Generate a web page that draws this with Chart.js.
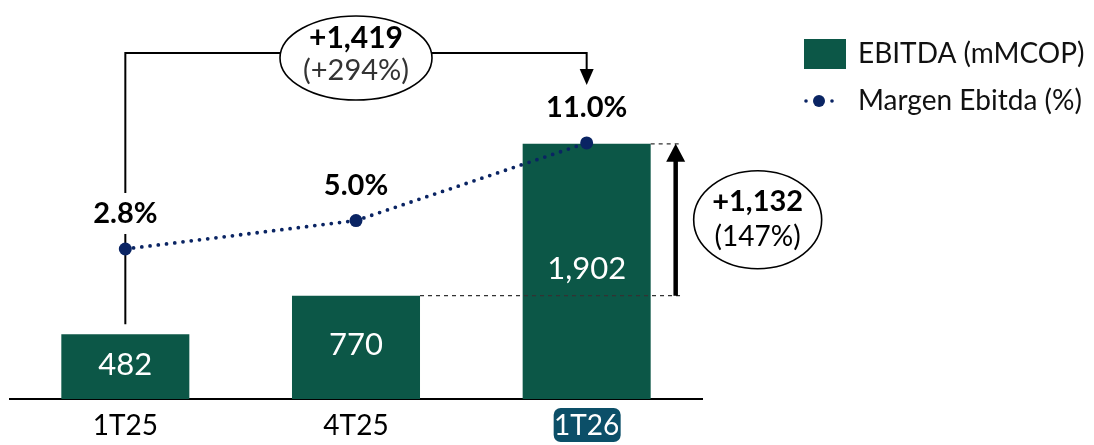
<!DOCTYPE html>
<html><head><meta charset="utf-8">
<script src="https://cdn.jsdelivr.net/npm/chart.js@4/dist/chart.umd.min.js"></script>
<style>html,body{margin:0;padding:0;background:#fff}#wrap{width:1094px;height:445px}</style>
</head><body><div id="wrap"><canvas id="c" width="1094" height="445"></canvas></div>
<script>
const categories = ['1T25', '4T25', '1T26'];
const ebitda = [482, 770, 1902];
const margin = [2.8, 5.0, 11.0];
const ebitdaLabels = ['482', '770', '1,902'];
const marginLabels = ['2.8%', '5.0%', '11.0%'];
const totalChange = ['+1,419', '(+294%)'];
const qoqChange = ['+1,132', '(147%)'];
const seriesNames = ['EBITDA (mMCOP)', 'Margen Ebitda (%)'];
const highlightIndex = 2;

const FONT = 'Lato';
const GREEN = '#0c5747';
const NAVY = '#0a2463';
const TEAL = '#0c4f68';

function ellipse(ctx, cx, cy, rx, ry) {
  ctx.save();
  ctx.beginPath();
  ctx.ellipse(cx, cy, rx, ry, 0, 0, Math.PI * 2);
  ctx.fillStyle = '#fff';
  ctx.fill();
  ctx.lineWidth = 1.6;
  ctx.strokeStyle = '#000';
  ctx.stroke();
  ctx.restore();
}
function tri(ctx, x, tipY, w, h, up) {
  ctx.beginPath();
  ctx.moveTo(x, tipY);
  ctx.lineTo(x - w / 2, up ? tipY + h : tipY - h);
  ctx.lineTo(x + w / 2, up ? tipY + h : tipY - h);
  ctx.closePath();
  ctx.fill();
}

const annot = {
  id: 'annot',
  beforeDraw(chart) {
    const ctx = chart.ctx, xs = chart.scales.x;
    const cx = xs.getPixelForValue(highlightIndex);
    ctx.save();
    ctx.fillStyle = TEAL;
    ctx.beginPath();
    ctx.roundRect(cx - 33, 408, 67, 34, 7);
    ctx.fill();
    ctx.restore();
  },
  beforeDatasetsDraw(chart) {
    const ctx = chart.ctx, xs = chart.scales.x, ys = chart.scales.y, y1 = chart.scales.y1;
    const x0 = xs.getPixelForValue(0), x2 = xs.getPixelForValue(2);
    const topY = 53;
    const tipY = y1.getPixelForValue(margin[2]) - 58;
    ctx.save();
    ctx.strokeStyle = '#000';
    ctx.lineWidth = 2;
    ctx.beginPath();
    ctx.moveTo(x0, ys.getPixelForValue(ebitda[0]) - 10);
    ctx.lineTo(x0, topY);
    ctx.lineTo(x2, topY);
    ctx.lineTo(x2, tipY - 10);
    ctx.stroke();
    ctx.fillStyle = '#000';
    tri(ctx, x2, tipY, 14, 16, false);
    ctx.restore();
  },
  afterDatasetsDraw(chart) {
    const ctx = chart.ctx, xs = chart.scales.x, ys = chart.scales.y, y1 = chart.scales.y1;
    const barMeta = chart.getDatasetMeta(0);
    ctx.save();
    // bar value labels
    ctx.textAlign = 'center';
    ctx.textBaseline = 'middle';
    ctx.fillStyle = '#fff';
    ctx.font = `31px ${FONT}`;
    barMeta.data.forEach((b, i) => {
      ctx.fillText(ebitdaLabels[i], b.x, (b.y + b.base) / 2 - 2);
    });
    // margin labels
    ctx.font = `bold 29px ${FONT}`;
    margin.forEach((m, i) => {
      const x = xs.getPixelForValue(i), y = y1.getPixelForValue(m) - 35;
      const w = ctx.measureText(marginLabels[i]).width;
      ctx.fillStyle = '#fff';
      ctx.fillRect(x - w / 2 - 4, y - 21, w + 8, 41);
      ctx.fillStyle = '#000';
      ctx.fillText(marginLabels[i], x, y);
    });
    // dashed guides + arrow
    const b2 = barMeta.data[2], b1 = barMeta.data[1];
    const right2 = b2.x + b2.width / 2, right1 = b1.x + b1.width / 2;
    const yTop = ys.getPixelForValue(ebitda[2]), yMid = ys.getPixelForValue(ebitda[1]);
    const dashEnd = right2 + 32;
    ctx.strokeStyle = '#333';
    ctx.lineWidth = 1.3;
    ctx.setLineDash([4, 4]);
    ctx.beginPath();
    ctx.moveTo(right2, yTop); ctx.lineTo(dashEnd, yTop);
    ctx.moveTo(right1, yMid); ctx.lineTo(dashEnd, yMid);
    ctx.stroke();
    ctx.setLineDash([]);
    const ax = right2 + 25;
    ctx.strokeStyle = '#000';
    ctx.lineWidth = 4.5;
    ctx.beginPath();
    ctx.moveTo(ax, yMid); ctx.lineTo(ax, yTop + 14);
    ctx.stroke();
    ctx.fillStyle = '#000';
    tri(ctx, ax, yTop, 19, 18, true);
    // ellipse 1
    const ex1 = (xs.getPixelForValue(0) + xs.getPixelForValue(2)) / 2;
    ellipse(ctx, ex1, 58, 76, 42);
    ctx.fillStyle = '#000';
    ctx.font = `bold 30px ${FONT}`;
    ctx.fillText(totalChange[0], ex1, 38);
    ctx.font = `29px ${FONT}`;
    ctx.fillStyle = '#333';
    ctx.fillText(totalChange[1], ex1, 71);
    // ellipse 2
    const ex2 = right2 + 107, ey2 = (yTop + yMid) / 2;
    ellipse(ctx, ex2, ey2, 64, 49);
    ctx.fillStyle = '#000';
    ctx.font = `bold 29px ${FONT}`;
    ctx.fillText(qoqChange[0], ex2, ey2 - 18);
    ctx.font = `28px ${FONT}`;
    ctx.fillText(qoqChange[1], ex2, ey2 + 17);
    // legend
    ctx.textAlign = 'left';
    ctx.fillStyle = GREEN;
    ctx.fillRect(804, 39, 42, 30);
    ctx.fillStyle = NAVY;
    [806, 832].forEach(x => { ctx.beginPath(); ctx.arc(x, 101, 1.8, 0, Math.PI * 2); ctx.fill(); });
    ctx.beginPath(); ctx.arc(819, 101, 6, 0, Math.PI * 2); ctx.fill();
    ctx.fillStyle = '#111';
    ctx.font = `28px ${FONT}`;
    ctx.fillText(seriesNames[0], 858, 54);
    ctx.fillText(seriesNames[1], 858, 101);
    ctx.restore();
  }
};

new Chart(document.getElementById('c'), {
  data: {
    labels: categories,
    datasets: [
      { type: 'bar', label: seriesNames[0], data: ebitda, backgroundColor: GREEN, yAxisID: 'y',
        barPercentage: 0.555, categoryPercentage: 1, order: 2 },
      { type: 'line', label: seriesNames[1], data: margin, yAxisID: 'y1', borderColor: NAVY,
        backgroundColor: NAVY, borderWidth: 3.8, borderDash: [0, 8.3], borderCapStyle: 'round',
        pointRadius: 6.5, pointBackgroundColor: NAVY, pointBorderWidth: 0, tension: 0, order: 1 }
    ]
  },
  options: {
    responsive: false, animation: false, devicePixelRatio: 1,
    layout: { padding: { left: 10, right: 392, top: 10, bottom: 0 } },
    plugins: { legend: { display: false }, tooltip: { enabled: false } },
    scales: {
      x: {
        grid: { display: false, drawTicks: false },
        border: { display: true, color: '#000', width: 2 },
        ticks: { padding: 10, font: { family: FONT, size: 28 },
          color: c => c.index === highlightIndex ? '#fff' : '#000' },
        afterFit: s => { s.height = 46; }
      },
      y: { display: false, min: 0, max: 2900 },
      y1: { display: false, min: -8.8, max: 21.28 }
    }
  },
  plugins: [annot]
});
</script></body></html>
